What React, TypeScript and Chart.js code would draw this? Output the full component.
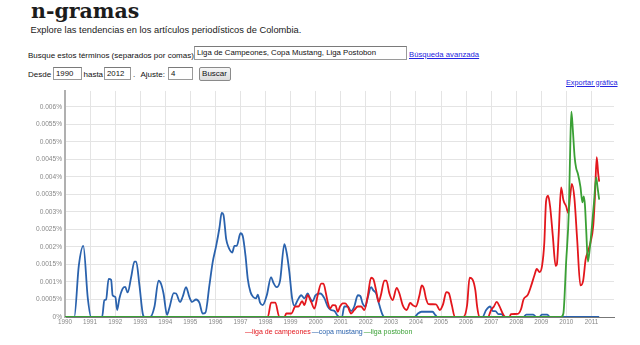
import React, { useEffect, useRef } from "react";
import Chart from "chart.js/auto";

// [year, percent]
const ligaDeCampeones: [number, number][] = [
  [1990, 0], [1998.09, 0], [1998.22, 0.00041], [1998.39, 0.00041], [1998.55, 0], [1998.75, 0],
  [1998.83, 0.0001], [1999.03, 0.0001], [1999.19, 0.0003], [1999.31, 0.0003], [1999.46, 0.00045],
  [1999.55, 0.00034], [1999.68, 0.00062], [1999.82, 0.00043], [1999.95, 0.00024], [2000.08, 0.00062],
  [2000.22, 0.00095], [2000.31, 0.00095], [2000.41, 0.00067], [2000.48, 0.00043], [2000.57, 0.00024],
  [2000.68, 0.00034], [2000.79, 0.00033], [2000.88, 0.00015], [2000.97, 0.0003], [2001.08, 0.00039],
  [2001.18, 0.00039], [2001.28, 0.0003], [2001.41, 0.0001], [2001.54, 0.0002], [2001.68, 0.0003],
  [2001.81, 0.0003], [2001.94, 0.0002], [2002.07, 0.00057], [2002.21, 0.00112], [2002.3, 0.00108],
  [2002.41, 0.00076], [2002.51, 0.00043], [2002.6, 0.00062], [2002.74, 0.00104], [2002.82, 0.00104],
  [2002.94, 0.00067], [2003.07, 0.00048], [2003.23, 0.00083], [2003.34, 0.00067], [2003.47, 0.00034],
  [2003.63, 0.0002], [2003.77, 0.0004], [2003.87, 0.00034], [2004.0, 0.0003], [2004.14, 0.00062],
  [2004.23, 0.0009], [2004.32, 0.0008], [2004.4, 0.00053], [2004.5, 0.00037], [2004.8, 0.00036],
  [2004.95, 0.0002], [2005.08, 0.00036], [2005.21, 0.00071], [2005.31, 0.00068], [2005.43, 0.00034],
  [2005.55, 0], [2005.89, 0], [2006.04, 0.00034], [2006.14, 0.00112], [2006.25, 0.00108],
  [2006.37, 0.00076], [2006.44, 0.0003], [2006.53, 0], [2006.87, 0], [2007.0, 0.0002],
  [2007.11, 0.0003], [2007.22, 0.00043], [2007.33, 0.00031], [2007.46, 0.0001], [2007.57, 0],
  [2007.73, 0], [2007.79, 0.00008], [2008.06, 0.00009], [2008.19, 0.00022], [2008.29, 0.0005],
  [2008.46, 0.00063], [2008.59, 0.00088], [2008.73, 0.0012], [2008.82, 0.00137], [2008.93, 0.00128],
  [2009.03, 0.00146], [2009.12, 0.00212], [2009.19, 0.0033], [2009.27, 0.00346], [2009.35, 0.00316],
  [2009.46, 0.00231], [2009.57, 0.00146], [2009.62, 0.0015], [2009.69, 0.00231], [2009.79, 0.0037],
  [2009.88, 0.00334], [2009.99, 0.00316], [2010.08, 0.00297], [2010.15, 0.00344], [2010.22, 0.0038],
  [2010.32, 0.00339], [2010.43, 0.00222], [2010.56, 0.0009], [2010.67, 0.00104], [2010.77, 0.00165],
  [2010.87, 0.00189], [2010.96, 0.00212], [2011.07, 0.00259], [2011.14, 0.00344], [2011.21, 0.00456],
  [2011.27, 0.00409], [2011.31, 0.00386],
];

const copaMustang: [number, number][] = [
  [1990.0, 0], [1990.37, 0], [1990.55, 0.00146], [1990.73, 0.00203], [1990.91, 0.00053], [1991.04, 0],
  [1991.48, 0], [1991.57, 0.00048], [1991.64, 0.0005], [1991.74, 0.00109], [1991.84, 0.00106],
  [1991.9, 0.00062], [1992.01, 0.00057], [1992.08, 0.0002], [1992.17, 0.00053], [1992.3, 0.00081],
  [1992.4, 0.00086], [1992.5, 0.0007], [1992.64, 0.00114], [1992.77, 0.00158], [1992.84, 0.00158],
  [1992.97, 0.0009], [1993.1, 0.0001], [1993.17, 0], [1993.39, 0], [1993.57, 0.0003], [1993.73, 0.00104],
  [1993.83, 0.00095], [1993.93, 0.00067], [1994.07, 0.00006], [1994.16, 0.00025], [1994.34, 0.00068],
  [1994.43, 0.00067], [1994.59, 0.00043], [1994.69, 0.00057], [1994.83, 0.00085], [1994.96, 0.00057],
  [1995.07, 0.00043], [1995.23, 0.0005], [1995.36, 0.00041], [1995.49, 0.0001], [1995.6, 0.00012],
  [1995.76, 0.0009], [1995.89, 0.00156], [1996.03, 0.00203], [1996.16, 0.00254], [1996.25, 0.00297],
  [1996.32, 0.00292], [1996.43, 0.00222], [1996.53, 0.00198], [1996.67, 0.00184], [1996.76, 0.00203],
  [1996.85, 0.00203], [1997.0, 0.00239], [1997.09, 0.00231], [1997.2, 0.00175], [1997.29, 0.00109],
  [1997.4, 0.00071], [1997.51, 0.00057], [1997.62, 0.00053], [1997.69, 0.00064], [1997.78, 0.00041],
  [1997.89, 0.00034], [1998.05, 0.00062], [1998.22, 0.00114], [1998.31, 0.00098], [1998.44, 0.00085],
  [1998.58, 0.00104], [1998.75, 0.00208], [1998.84, 0.00184], [1998.95, 0.00128], [1999.06, 0.00053],
  [1999.15, 0.00032], [1999.28, 0.00048], [1999.42, 0.00062], [1999.55, 0.00053], [1999.68, 0.00067],
  [1999.78, 0.00053], [1999.88, 0.00045], [1999.99, 0.00062], [2000.18, 0.00067], [2000.35, 0.00053],
  [2000.48, 0.0003], [2000.61, 0.0002], [2000.75, 0.00017], [2000.88, 0.00003], [2000.95, 0],
  [2001.05, 0], [2001.14, 0.0003], [2001.28, 0.0003], [2001.41, 0.00017], [2001.54, 0.0003],
  [2001.68, 0.00062], [2001.78, 0.0006], [2001.87, 0.00039], [2001.98, 0.0003], [2002.07, 0.00053],
  [2002.21, 0.00085], [2002.3, 0.00076], [2002.41, 0.00067], [2002.54, 0.00034], [2002.67, 0.00006],
  [2002.74, 0], [2003.94, 0], [2004.08, 0.0001], [2004.22, 0.00015], [2004.66, 0.00015],
  [2004.78, 0.00005], [2004.86, 0], [2006.65, 0], [2006.8, 0.0002], [2006.96, 0.0003],
  [2007.06, 0.00017], [2007.17, 0.00017], [2007.29, 0.00008], [2007.41, 0.00008], [2007.53, 0],
  [2008.29, 0], [2008.4, 0.00007], [2008.68, 0.00007], [2008.8, 0], [2008.93, 0], [2009.02, 0.00007],
  [2009.24, 0.00007], [2009.34, 0], [2011.31, 0],
];

const ligaPostobon: [number, number][] = [
  [1990, 0], [2009.79, 0], [2009.88, 0.0001], [2009.99, 0.00156], [2010.1, 0.00306], [2010.16, 0.00503],
  [2010.2, 0.00586], [2010.26, 0.00532], [2010.33, 0.00456], [2010.39, 0.00425], [2010.46, 0.00409],
  [2010.56, 0.00372], [2010.64, 0.00327], [2010.69, 0.00344], [2010.74, 0.0032], [2010.79, 0.0025],
  [2010.86, 0.00158], [2010.93, 0.00193], [2011.02, 0.00259], [2011.1, 0.00325], [2011.19, 0.00398],
  [2011.24, 0.00372], [2011.31, 0.00335],
];

const seriesNames = ["liga de campeones", "copa mustang", "liga postobon"];
const seriesColors = ["#e3161c", "#2a62ad", "#3aa035"];

const yearTicks = [
  1990, 1991, 1992, 1993, 1994, 1995, 1996, 1997, 1998, 1999, 2000,
  2001, 2002, 2003, 2004, 2005, 2006, 2007, 2008, 2009, 2010, 2011,
];
const percentTicks = [
  0, 0.0005, 0.001, 0.0015, 0.002, 0.0025, 0.003, 0.0035, 0.004, 0.0045, 0.005, 0.0055, 0.006,
];

const X_MIN = 1990;
const X_MAX = 2011.9;
const Y_MAX = 0.00645;

const FONT = '"Liberation Sans", Arial, sans-serif';

function toPoints(s: [number, number][]) {
  return s.map(([x, y]) => ({ x, y }));
}

function ChartCanvas() {
  const ref = useRef<HTMLCanvasElement | null>(null);
  useEffect(() => {
    if (!ref.current) return;
    const mk = (idx: number, data: [number, number][], order: number) => ({
      label: seriesNames[idx],
      data: toPoints(data),
      borderColor: seriesColors[idx],
      backgroundColor: seriesColors[idx],
      borderWidth: 1.8,
      pointRadius: 0,
      cubicInterpolationMode: "monotone" as const,
      order,
    });
    const chart = new Chart(ref.current, {
      type: "line",
      data: {
        datasets: [
          mk(2, ligaPostobon, 0),
          mk(0, ligaDeCampeones, 1),
          mk(1, copaMustang, 2),
        ],
      },
      options: {
        animation: false,
        responsive: false,
        devicePixelRatio: 1,
        layout: { padding: { top: 4, right: 26, left: 0, bottom: 0 } },
        plugins: { legend: { display: false }, tooltip: { enabled: false } },
        scales: {
          x: {
            type: "linear",
            min: X_MIN,
            max: X_MAX,
            afterFit: (s: any) => { s.height = 28; },
            afterBuildTicks: (s: any) => {
              s.ticks = yearTicks.map((value) => ({ value }));
            },
            ticks: {
              padding: 1,
              color: "#888",
              font: { family: FONT, size: 6.3 },
              maxRotation: 0,
              autoSkip: false,
              callback: (v: any) => String(v),
            },
            grid: { color: "#e4e4e4", lineWidth: 1, drawTicks: false },
            border: { color: "#777", width: 1 },
          },
          y: {
            type: "linear",
            min: 0,
            max: Y_MAX,
            afterFit: (s: any) => { s.width = 65; },
            afterBuildTicks: (s: any) => {
              s.ticks = percentTicks.map((value) => ({ value }));
            },
            ticks: {
              padding: 3,
              color: "#888",
              font: { family: FONT, size: 6.6 },
              autoSkip: false,
              callback: (v: any) => `${parseFloat(Number(v).toFixed(4))}%`,
            },
            grid: { color: "#e4e4e4", lineWidth: 1, drawTicks: false },
            border: { color: "#b0b0b0", width: 2 },
          },
        },
      },
    });
    return () => chart.destroy();
  }, []);
  return (
    <canvas
      ref={ref}
      width={640}
      height={261}
      style={{ position: "absolute", left: 0, top: 84, width: 640, height: 261 }}
    />
  );
}

const abs = (left: number, top: number, extra: React.CSSProperties = {}): React.CSSProperties => ({
  position: "absolute",
  left,
  top,
  whiteSpace: "nowrap",
  ...extra,
});

const boxStyle: React.CSSProperties = {
  border: "1px solid #9a9a9a",
  borderTopColor: "#7a7a7a",
  background: "#fff",
  boxSizing: "border-box",
  fontSize: 7.8,
  lineHeight: "12px",
  paddingLeft: 2,
  color: "#111",
};

export default function App() {
  return (
    <div
      style={{
        position: "absolute",
        left: 0,
        top: 0,
        width: 640,
        height: 345,
        background: "#fff",
        overflow: "hidden",
        fontFamily: FONT,
        color: "#111",
      }}
    >
      <div
        style={abs(31, -1, {
          fontFamily: '"DejaVu Serif", serif',
          fontWeight: "bold",
          fontSize: 20.5,
          lineHeight: "24px",
          color: "#1c1c1c",
        })}
      >
        n-gramas
      </div>
      <div style={abs(30.5, 25.4, { fontSize: 9.3, lineHeight: "11px", color: "#1a1a1a" })}>
        Explore las tendencias en los artículos periodísticos de Colombia.
      </div>

      <div style={abs(28, 50.5, { fontSize: 8, lineHeight: "10px" })}>
        Busque estos términos (separados por comas)
      </div>
      <div style={abs(194, 46, { ...boxStyle, width: 213, height: 14 })}>
        Liga de Campeones, Copa Mustang, Liga Postobon
      </div>
      <div
        style={abs(409, 50, {
          fontSize: 7.7,
          lineHeight: "10px",
          color: "#2424e0",
          textDecoration: "underline",
        })}
      >
        Búsqueda avanzada
      </div>

      <div style={abs(28, 70, { fontSize: 8, lineHeight: "10px" })}>Desde</div>
      <div style={abs(53, 66.5, { ...boxStyle, width: 29, height: 13.5 })}>1990</div>
      <div style={abs(83.5, 70, { fontSize: 8, lineHeight: "10px" })}>hasta</div>
      <div style={abs(104, 66.5, { ...boxStyle, width: 27, height: 13.5 })}>2012</div>
      <div style={abs(133, 70, { fontSize: 8, lineHeight: "10px" })}>.</div>
      <div style={abs(140.5, 70, { fontSize: 8, lineHeight: "10px" })}>Ajuste:</div>
      <div style={abs(168, 66.5, { ...boxStyle, width: 25, height: 13.5 })}>4</div>
      <div
        style={abs(198.5, 66.5, {
          width: 32,
          height: 14,
          boxSizing: "border-box",
          border: "1px solid #8a8a8a",
          borderRadius: 2,
          background: "linear-gradient(#f6f6f6, #dcdcdc)",
          fontSize: 8,
          lineHeight: "12px",
          textAlign: "center",
          color: "#111",
        })}
      >
        Buscar
      </div>

      <div
        style={abs(566, 77.5, {
          fontSize: 7.3,
          lineHeight: "9px",
          color: "#2424e0",
          textDecoration: "underline",
        })}
      >
        Exportar gráfica
      </div>

      <ChartCanvas />

      <div style={abs(245, 327, { fontSize: 7, lineHeight: "10px" })}>
        <span style={{ color: seriesColors[0] }}>—{seriesNames[0]}</span>
        <span style={{ color: seriesColors[1], marginLeft: 1 }}>—{seriesNames[1]}</span>
        <span style={{ color: seriesColors[2], marginLeft: 1 }}>—{seriesNames[2]}</span>
      </div>
    </div>
  );
}
